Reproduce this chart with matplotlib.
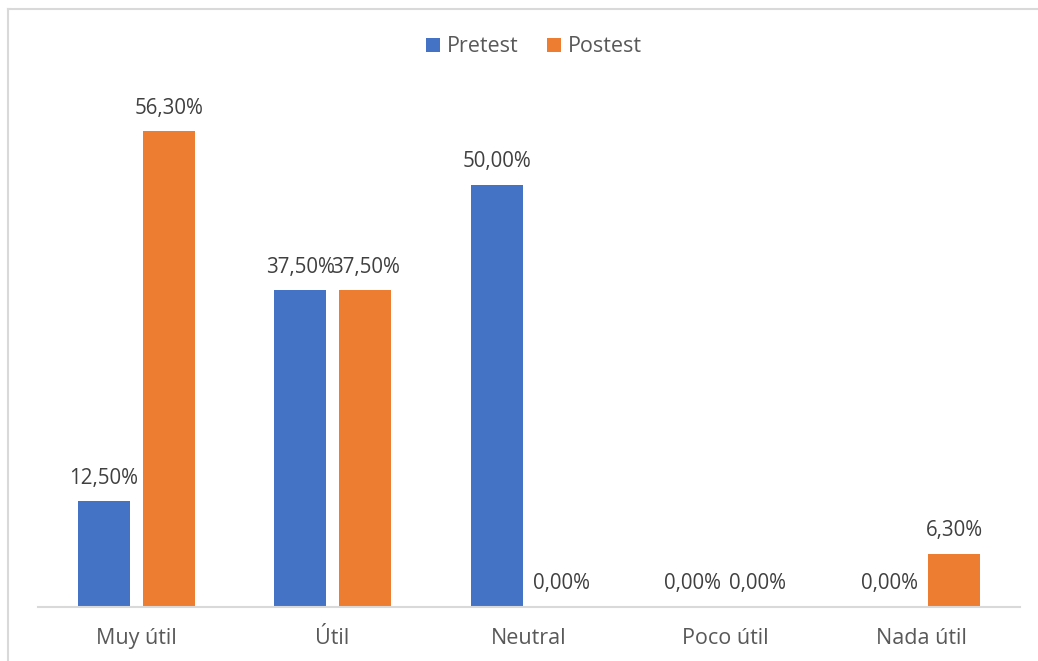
import numpy as np
import matplotlib.pyplot as plt
from matplotlib.lines import Line2D

# Valoraciones de utilidad, pretest vs postest (%)
categorias = ["Muy útil", "Útil", "Neutral", "Poco útil", "Nada útil"]
pretest = [12.5, 37.5, 50.0, 0.0, 0.0]
postest = [56.3, 37.5, 0.0, 0.0, 6.3]
series = ["Pretest", "Postest"]

azul = "#4472C4"
naranja = "#ED7D31"
gris = "#595959"

plt.rcParams['font.family'] = ['Open Sans', 'DejaVu Sans']

fig = plt.figure(figsize=(10.38, 6.61), dpi=100)
ax = fig.add_axes([38/1038, 54/661, 982/1038, 507/661])

x = np.arange(len(categorias))
w = 0.265
off = 0.165
b1 = ax.bar(x - off, pretest, w, color=azul, label=series[0])
b2 = ax.bar(x + off, postest, w, color=naranja, label=series[1])

def etiqueta(v):
    return f"{v:.2f}".replace(".", ",") + "%"

for barras, vals in ((b1, pretest), (b2, postest)):
    for b, v in zip(barras, vals):
        ax.annotate(etiqueta(v), (b.get_x() + b.get_width()/2, v),
                    xytext=(0, 9), textcoords="offset points",
                    ha="center", va="bottom", fontsize=14.8, color="#404040")

ax.set_xlim(-0.5, len(categorias) - 0.5)
ax.set_ylim(0, 60)
ax.set_xticks(x)
ax.set_xticklabels(categorias, fontsize=15.5, color=gris)
ax.tick_params(axis="x", length=0, pad=15)
ax.set_yticks([])
for s in ("top", "right", "left"):
    ax.spines[s].set_visible(False)
ax.spines["bottom"].set_color("#D9D9D9")
ax.spines["bottom"].set_linewidth(1.5)

ax.legend(loc="center", bbox_to_anchor=(534/1038, 1 - 47/661),
          bbox_transform=fig.transFigure, ncol=2, frameon=False,
          fontsize=15.5, labelcolor=gris, handlelength=0.65, handleheight=0.65,
          handletextpad=0.35, columnspacing=1.3)

# marco del gráfico (solo arriba e izquierda quedan dentro)
fig.add_artist(Line2D([8/1038, 8/1038], [0, 1 - 9/661], color="#D9D9D9",
                      lw=1.5, transform=fig.transFigure))
fig.add_artist(Line2D([8/1038, 1], [1 - 9/661, 1 - 9/661], color="#D9D9D9",
                      lw=1.5, transform=fig.transFigure))

fig.savefig("out.png", dpi=100, facecolor="white")
